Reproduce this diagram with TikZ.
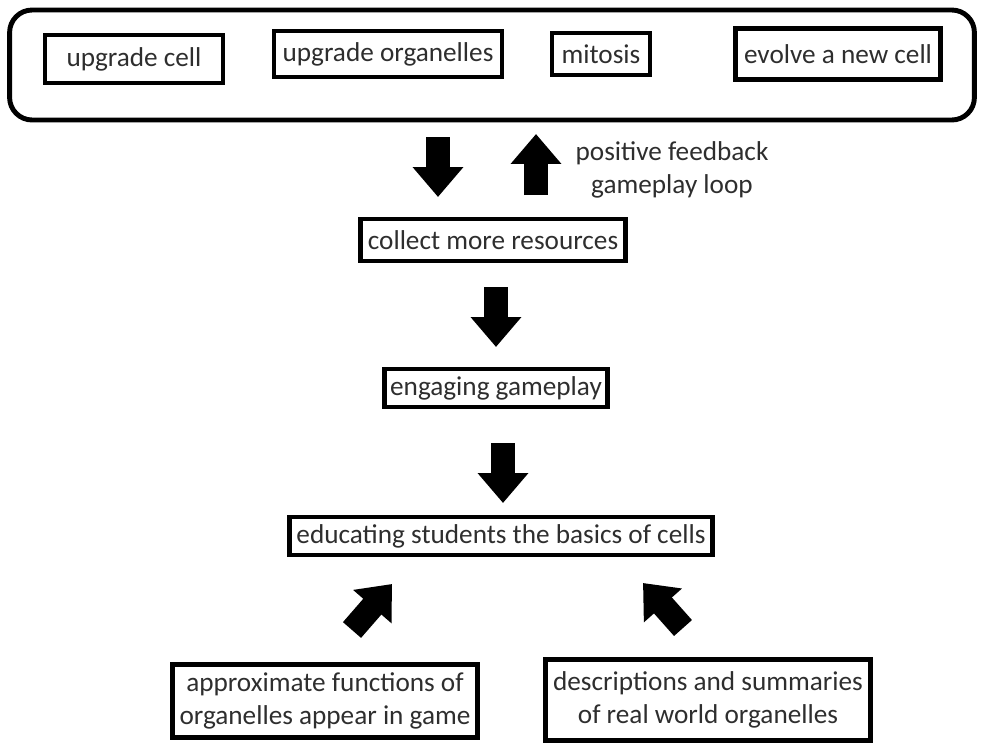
\documentclass[tikz,border=0pt]{standalone}
\usepackage{fontspec}
\setmainfont{Carlito}
\usetikzlibrary{arrows.meta}

\begin{document}
\begin{tikzpicture}[x=0.02cm, y=-0.02cm,
    every node/.style = {font=\fontsize{15.5}{18.5}\selectfont, text=black!82},
    box/.style = {draw=black, line width=2.4pt, inner sep=0pt, align=center},
    blockarrow/.style = {line width=0.48cm, -{Triangle[length=0.6cm, width=0.98cm]}}]
\useasboundingbox (0,0) rectangle (984,754);
\node[box, rounded corners=0.45cm, line width=2.8pt, minimum width=19.3cm, minimum height=2.2cm] (loop) at (492,65) {};
\node[box, minimum width=3.55cm, minimum height=0.95cm] (upcell) at (134,59) {upgrade cell};
\node[box, minimum width=4.57cm, minimum height=0.93cm] (uporg) at (388,54) {upgrade organelles};
\node[box, minimum width=1.95cm, minimum height=0.85cm] (mitosis) at (601,54) {mitosis};
\node[box, minimum width=4.1cm, minimum height=1.02cm] (evolve) at (838,54) {evolve a new cell};
\node[align=center] (feedback) at (672,170) {positive feedback\\gameplay loop};
\node[box, minimum width=5.3cm, minimum height=0.83cm] (collect) at (493,240) {collect more resources};
\node[box, minimum width=4.46cm, minimum height=0.77cm] (engaging) at (496,388) {engaging gameplay};
\node[box, minimum width=8.46cm, minimum height=0.77cm] (educating) at (501,536) {educating students the basics of cells};
\node[box, minimum width=6.1cm, minimum height=1.46cm] (approx) at (325,701) {approximate functions of\\organelles appear in game};
\node[box, minimum width=6.5cm, minimum height=1.62cm] (descr) at (708,700) {descriptions and summaries\\of real world organelles};
\coordinate (d1s) at (438,137);
\coordinate (d1e) at (438,197);
\coordinate (u1s) at (536,195);
\coordinate (u1e) at (536,134);
\coordinate (d2s) at (496,287);
\coordinate (d2e) at (496,347);
\coordinate (d3s) at (503,443);
\coordinate (d3e) at (503,503);
\coordinate (lts) at (352,630);
\coordinate (lte) at (392,584);
\coordinate (rts) at (683,628);
\coordinate (rte) at (643,583);
\draw[blockarrow] (d1s) -- (d1e);
\draw[blockarrow] (u1s) -- (u1e);
\draw[blockarrow] (d2s) -- (d2e);
\draw[blockarrow] (d3s) -- (d3e);
\draw[blockarrow] (lts) -- (lte);
\draw[blockarrow] (rts) -- (rte);
\end{tikzpicture}
\end{document}
